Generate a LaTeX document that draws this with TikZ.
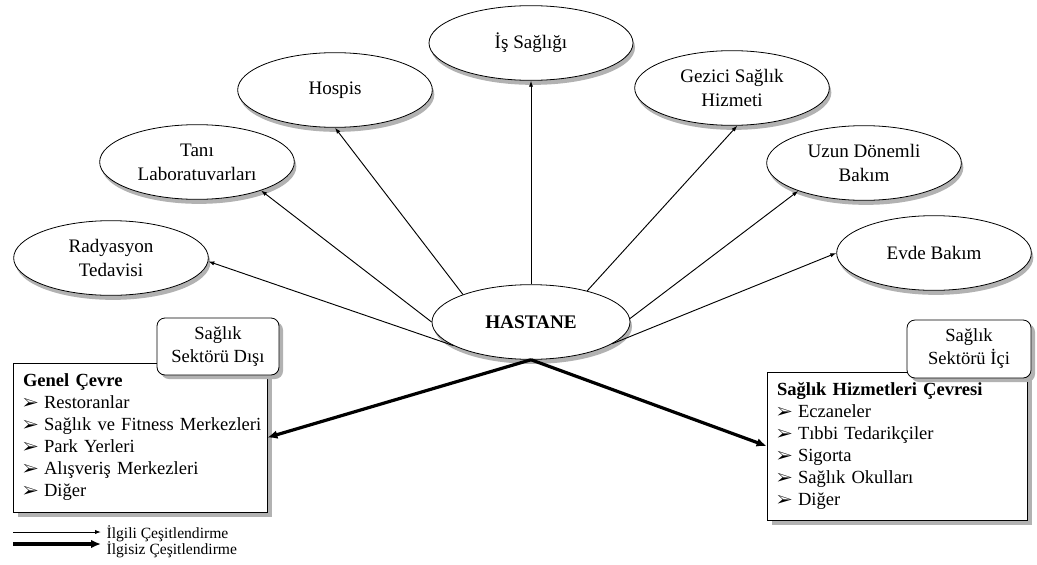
\documentclass[tikz,border=0pt]{standalone}
\usepackage{fontspec}
\setmainfont{Liberation Serif}
\usepackage{pifont}
\usetikzlibrary{shapes.geometric,shadows,arrows.meta}
\newcommand\itm[1]{\mbox{\makebox[15.75pt][l]{\fontsize{12.5}{12}\selectfont\ding{226}}#1}}
\begin{document}
\begin{tikzpicture}[x=0.75pt,y=-0.75pt,
  ell/.style={ellipse, draw=black, line width=0.6pt, fill=white, inner sep=0pt,
    minimum width=146pt, minimum height=56pt, align=center,
    font=\fontsize{14.3}{18}\selectfont,
    drop shadow={shadow xshift=1.5pt, shadow yshift=-3.4pt, fill=gray!60, opacity=1}},
  box/.style={rectangle, draw=black, line width=0.6pt, fill=white, inner xsep=7.5pt, inner ysep=0pt,
    align=left, font=\fontsize{13.9}{16.5}\selectfont,
    drop shadow={shadow xshift=3.4pt, shadow yshift=-3.4pt, fill=gray!60, opacity=1}},
  lab/.style={rectangle, rounded corners=6pt, draw=black, line width=0.6pt, fill=white, inner sep=0pt,
    align=center, font=\fontsize{13.9}{17.25}\selectfont,
    drop shadow={shadow xshift=3pt, shadow yshift=-3pt, fill=gray!60, opacity=1}},
  thinarr/.style={line width=0.7pt, -{Latex[length=4.5pt,width=3.2pt]}},
  thickarr/.style={line width=2.4pt, -{Latex[length=7.5pt,width=6.5pt]}},
  legtext/.style={anchor=west, inner xsep=4pt, inner ysep=1pt, font=\fontsize{11.7}{14}\selectfont}
]
\useasboundingbox (0,0) rectangle (1037,564);
\fill[white] (0,0) rectangle (1037,564);

% ellipses
\node[ell, minimum width=148.5pt] (h) at (531,322) {\textbf{\fontsize{14.4}{17}\selectfont HASTANE}};
\node[ell] (rad) at (111,258) {Radyasyon\\Tedavisi};
\node[ell] (tani) at (197,162) {Tanı\\Laboratuvarları};
\node[ell] (hos) at (335,90) {Hospis};
\node[ell, minimum width=153pt] (is) at (531,43) {İş Sağlığı};
\node[ell] (gez) at (732,88) {Gezici Sağlık\\Hizmeti};
\node[ell] (uzun) at (864,163) {Uzun Dönemli\\Bakım};
\node[ell] (evde) at (934,253) {Evde Bakım};

% related diversification
\draw[thinarr] (h.197.8) -- (rad.358);
\draw[thinarr] (h.180) -- (tani.336.8);
\draw[thinarr] (h.158) -- (hos.270);
\draw[thinarr] (h.90) -- (is.270);
\draw[thinarr] (h.29.7) -- (gez.278);
\draw[thinarr] (h.2) -- (uzun.203);
\draw[thinarr] (h.345.3) -- (evde.180);

% boxes
\node[box, text width=175.5pt, minimum height=111.75pt] (lbox) at (140,437.5)
  {\textbf{Genel Çevre}\\\itm{Restoranlar}\\\itm{Sağlık ve Fitness Merkezleri}\\\itm{Park Yerleri}\\\itm{Alışveriş Merkezleri}\\\itm{Diğer}};
\node[box, text width=180pt, minimum height=111pt] (rbox) at (897,446)
  {\textbf{Sağlık Hizmetleri Çevresi}\\\itm{Eczaneler}\\\itm{Tıbbi Tedarikçiler}\\\itm{Sigorta}\\\itm{Sağlık Okulları}\\\itm{Diğer}};
\node[lab, minimum width=91.5pt, minimum height=42.75pt] (llab) at (218,346.5) {Sağlık\\Sektörü Dışı};
\node[lab, minimum width=93pt, minimum height=43.5pt] (rlab) at (969,349) {Sağlık\\Sektörü İçi};

% unrelated diversification
\draw[thickarr] (h.south) -- (lbox.east);
\draw[thickarr] (h.south) -- (rbox.west);

% legend
\node[legtext] (leg1) at (101,534) {İlgili Çeşitlendirme};
\node[legtext] (leg2) at (101,550) {İlgisiz Çeşitlendirme};
\coordinate (l1s) at (13,532);
\coordinate (l2s) at (13,544);
\draw[thinarr] (l1s) -- (l1s -| leg1.west);
\draw[thickarr] (l2s) -- (l2s -| leg2.west);
\end{tikzpicture}
\end{document}
